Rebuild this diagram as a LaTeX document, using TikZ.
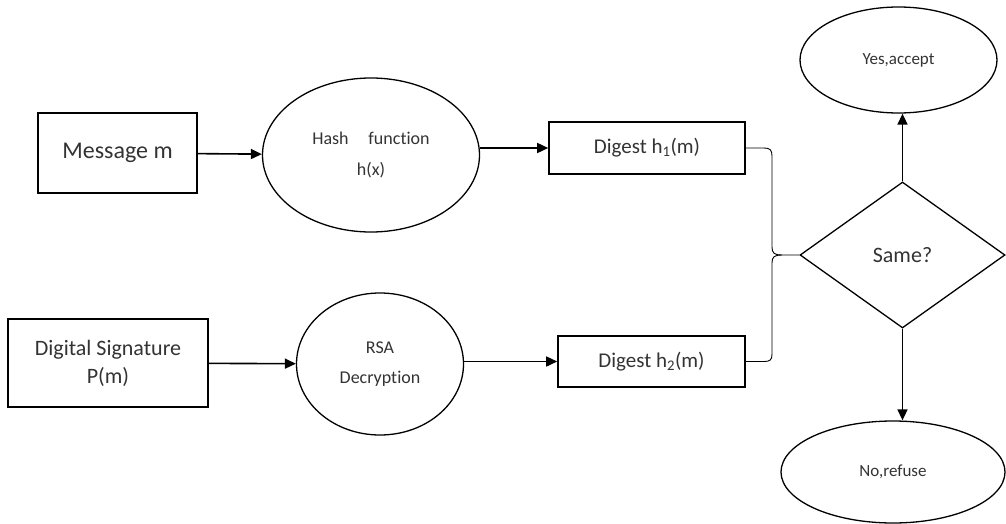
\documentclass[tikz,border=0pt]{standalone}
\usepackage{fontspec}
\setmainfont{Carlito}[Ligatures=NoCommon]
\usetikzlibrary{shapes.geometric,arrows.meta,positioning}

\begin{document}
\begin{tikzpicture}[x=1pt,y=-1pt,
        box/.style={draw,line width=1.6pt,inner sep=0pt,text=black!80,align=center},
        oval/.style={draw,ellipse,line width=1.3pt,inner sep=0pt,text=black!80,align=center},
        arr/.style={line width=1.6pt,-{Triangle[length=11pt,width=10pt]}},
        brace/.style={line width=0.9pt}]
    \useasboundingbox (0,0) rectangle (1006,524);
    \node[box,minimum width=159pt,minimum height=80pt,font=\fontsize{24}{28}\selectfont] (msg) at (117.5,153) {Message m};
    \node[oval,minimum width=217pt,minimum height=154pt,font=\fontsize{18}{31}\selectfont] (hash) at (371,155) {Hash\hspace{1.1em}function\\h(x)};
    \node[box,minimum width=196pt,minimum height=52pt,font=\fontsize{21}{25}\selectfont] (dig1) at (647,148) {Digest h\textsubscript{1}(m)};
    \node[box,minimum width=200pt,minimum height=88pt,font=\fontsize{22}{28}\selectfont] (sig) at (108,363) {Digital Signature\\P(m)};
    \node[oval,minimum width=167pt,minimum height=142pt,font=\fontsize{18}{30}\selectfont] (rsa) at (380,364) {RSA\\Decryption};
    \node[box,minimum width=187pt,minimum height=51pt,font=\fontsize{21}{25}\selectfont] (dig2) at (651.5,361.5) {Digest h\textsubscript{2}(m)};
    \node[draw,diamond,line width=1.3pt,inner sep=0pt,text=black!80,minimum width=205pt,minimum height=146pt,font=\fontsize{22}{26}\selectfont] (same) at (902.5,255) {Same?};
    \node[oval,minimum width=197pt,minimum height=106pt,font=\fontsize{17}{20}\selectfont] (yes) at (898.5,60) {Yes,accept};
    \node[oval,minimum width=224pt,minimum height=102pt,font=\fontsize{17}{20}\selectfont] (no) at (893,472) {No,refuse};

    \draw[arr] (msg) -- (hash);
    \draw[arr] (hash.east |- dig1.west) -- (dig1.west);
    \draw[arr] (sig) -- (rsa);
    \draw[arr] (rsa.east |- dig2.west) -- (dig2.west);
    \draw[arr] (same.north) -- (same.north |- yes.south);
    \draw[arr] (same.south) -- (same.south |- no.north);

    \draw[brace] (dig1.east) -- (764,148) .. controls (770,148) and (772,150) .. (772,156)
        -- (772,247) .. controls (772,253) and (774,255) .. (782,255) -- (same.west);
    \draw[brace] (782,255) .. controls (774,255) and (772,257) .. (772,263)
        -- (772,354) .. controls (772,360) and (770,361.5) .. (764,361.5) -- (dig2.east);
\end{tikzpicture}
\end{document}
